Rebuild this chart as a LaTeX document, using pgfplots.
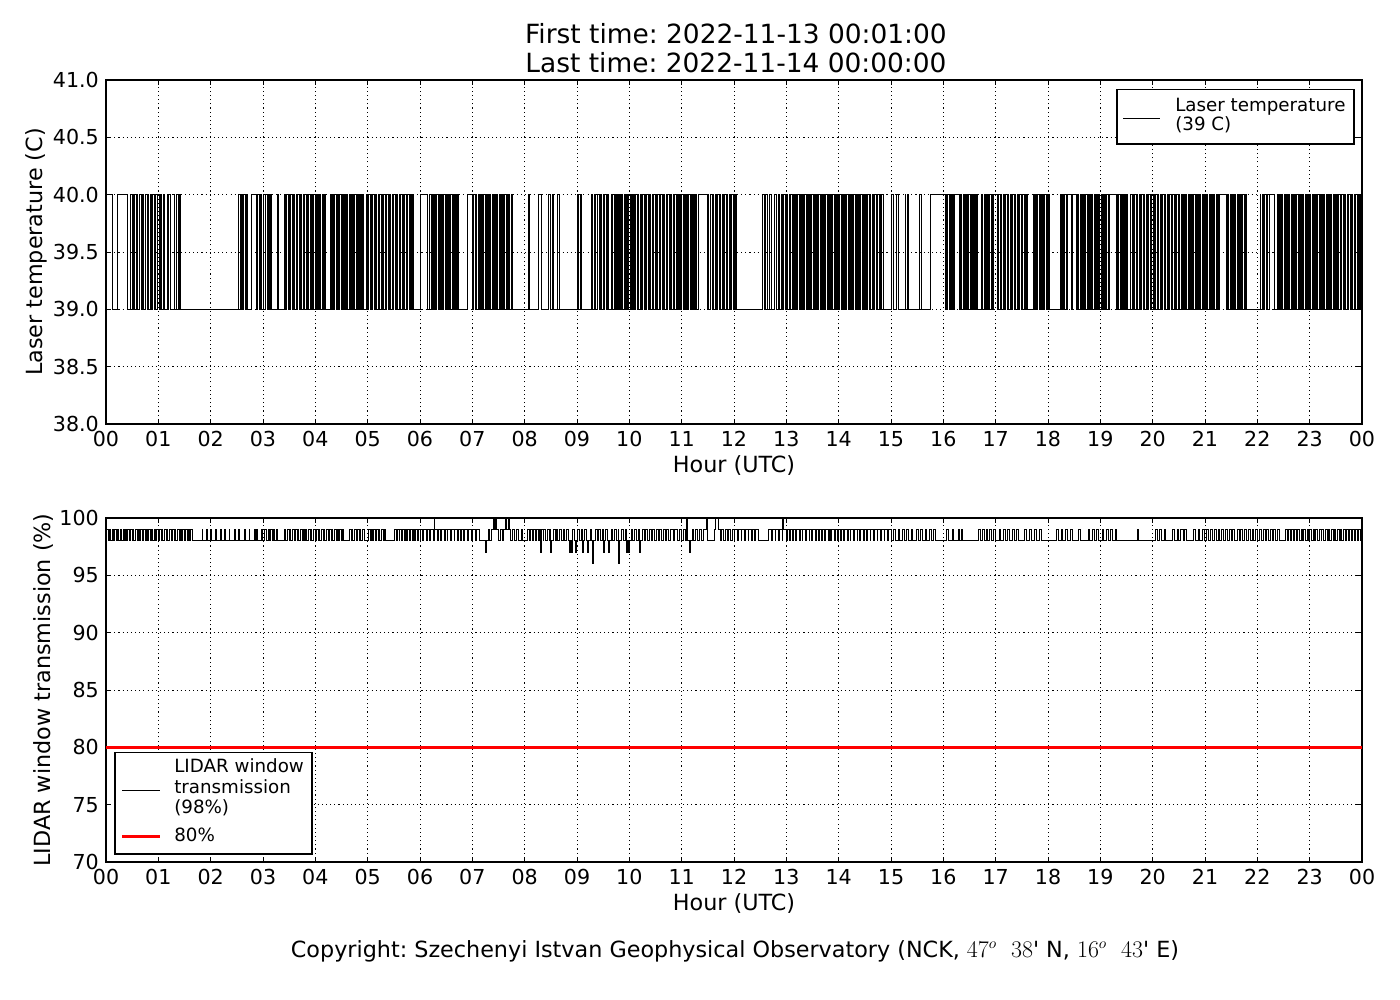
\documentclass[border=0pt]{standalone}
\usepackage{fontspec}
\setmainfont{DejaVu Sans}
\usepackage{pgfplots}
\pgfplotsset{compat=1.18}
\frenchspacing
\newcommand\titlefont{\fontsize{19.1}{22}\selectfont}
\newcommand\labelfont{\fontsize{16.1}{18}\selectfont}
\newcommand\tickfont{\fontsize{14.9}{17}\selectfont}
\newcommand\legfont{\fontsize{13.2}{14.8}\selectfont}
\pgfplotsset{
  myax/.style={
    scale only axis, width=907.7pt, height=248.6pt,
    xmin=0, xmax=1440,
    xtick={0,60,...,1440},
    xticklabels={00,01,02,03,04,05,06,07,08,09,10,11,12,13,14,15,16,17,18,19,20,21,22,23,00},
    grid=major,
    major grid style={black, line width=0.5pt, dash pattern=on 0.8pt off 2.2pt},
    tick align=inside, major tick length=3.8pt,
    every tick/.style={black, line width=0.6pt},
    axis line style={black, line width=0.8pt},
    ticklabel style={font=\tickfont},
    xticklabel style={inner sep=0pt, yshift=-5pt},
    yticklabel style={inner sep=0pt, xshift=-5pt},
    /pgf/number format/assume math mode=true,
  }
}
\begin{document}
\frenchspacing
\begin{tikzpicture}[x=0.7227pt, y=0.7227pt]
\path[use as bounding box] (0,0) rectangle (1400,1000);
\begin{axis}[myax, at={(76.61pt,416.28pt)}, anchor=south west,
  ymin=38, ymax=41, ytick={38,38.5,39,39.5,40,40.5,41},
  yticklabel style={/pgf/number format/.cd, fixed, fixed zerofill, precision=1}]
\addplot[black, line width=0.65pt, const plot mark left] coordinates {
(1,40)(7,39)(13,40)(25,39)
(28,40)(30,39)(31,40)(33,39)(35,40)(36,39)(38,40)(41,39)(42,40)(43,39)(45,40)(47,39)(48,40)(49,39)(51,40)(52,39)(53,40)(55,39)(56,40)(57,39)(59,40)(61,39)(62,40)(63,39)(66,40)(67,39)(70,40)(71,39)(72,40)(74,39)(78,40)(79,39)(81,40)(83,39)(84,40)(85,39)
(152,40)(154,39)(155,40)(156,39)(158,40)(160,39)(161,40)(162,39)
(167,40)(173,39)(174,40)(176,39)(177,40)(178,39)(180,40)(181,39)(183,40)(185,39)(186,40)(187,39)(189,40)(190,39)
(197,40)(198,39)
(205,40)(206,39)(207,40)(209,39)(210,40)(211,39)(212,40)(214,39)(215,40)(216,39)(218,40)(219,39)(220,40)(222,39)(223,40)(224,39)(226,40)(227,39)(228,40)(230,39)(231,40)(232,39)(234,40)(236,39)(237,40)(238,39)(240,40)(241,39)(242,40)(244,39)(245,40)(246,39)(248,40)(249,39)(250,40)(252,39)
(257,40)(259,39)(260,40)(261,39)(262,40)(264,39)(265,40)(266,39)(268,40)(270,39)(271,40)(272,39)(273,40)(275,39)(276,40)(277,39)(279,40)(280,39)(281,40)(283,39)(284,40)(285,39)(287,40)(288,39)(289,40)(291,39)(292,40)(293,39)(294,40)(295,39)
(299,40)(300,39)(301,40)(303,39)(304,40)(305,39)(306,40)(308,39)(309,40)(310,39)(312,40)(313,39)(314,40)(316,39)(317,40)(318,39)(320,40)(321,39)(322,40)(324,39)(325,40)(326,39)(328,40)(329,39)(330,40)(332,39)(333,40)(334,39)(336,40)(337,39)(338,40)(340,39)(341,40)(342,39)(344,40)(345,39)(346,40)(348,39)(349,40)(350,39)(351,40)(352,39)
(360,40)(368,39)
(371,40)(373,39)(374,40)(375,39)(377,40)(378,39)(379,40)(381,39)(382,40)(383,39)(385,40)(386,39)(387,40)(389,39)(390,40)(391,39)(393,40)(394,39)(395,40)(397,39)(398,40)(399,39)(401,40)(402,39)(403,40)(404,39)
(414,40)(420,39)(421,40)(423,39)(424,40)(425,39)(427,40)(428,39)(429,40)(431,39)(432,40)(433,39)(435,40)(436,39)(437,40)(439,39)(440,40)(441,39)(443,40)(444,39)(445,40)(447,39)(448,40)(449,39)(451,40)(452,39)(453,40)(455,39)(456,40)(457,39)(459,40)(460,39)(461,40)(462,39)
(465,40)(466,39)
(484,40)(486,39)(496,40)(499,39)(507,40)(509,39)(512,40)(513,39)(518,40)(520,39)(540,40)(542,39)(544,40)(545,39)
(557,40)(558,39)(560,40)(561,39)(564,40)(566,39)(567,40)(568,39)(570,40)(571,39)(572,40)(574,39)(575,40)(576,39)(579,40)(580,39)(581,40)(583,39)(584,40)(585,39)(586,40)(588,39)(589,40)(590,39)(591,40)(592,39)(594,40)(596,39)(597,40)(598,39)(599,40)(601,39)(602,40)(603,39)(605,40)(606,39)(607,40)(609,39)(610,40)(611,39)(613,40)(614,39)(615,40)(617,39)(618,40)(619,39)(620,40)(622,39)(623,40)(624,39)(626,40)(627,39)(628,40)(630,39)(631,40)(632,39)(634,40)(635,39)(636,40)(638,39)(639,40)(640,39)(642,40)(643,39)(644,40)(646,39)(647,40)(648,39)(650,40)(651,39)(652,40)(654,39)(655,40)(656,39)(658,40)(659,39)(660,40)(662,39)(663,40)(664,39)(666,40)(667,39)(668,40)(670,39)(671,40)(672,39)(673,40)(675,39)(676,40)(677,39)
(679,40)(689,39)
(690,40)(691,39)(693,40)(695,39)(696,40)(697,39)(699,40)(700,39)(701,40)(703,39)(704,40)(705,39)(707,40)(708,39)(709,40)(711,39)(712,40)(713,39)(715,40)(716,39)(717,40)(719,39)(720,40)(721,39)(722,40)(723,39)
(753,40)(755,39)(756,40)(758,39)(761,40)(763,39)(766,40)(769,39)
(771,40)(772,39)(774,40)(775,39)(777,40)(779,39)(780,40)(781,39)(783,40)(784,39)(785,40)(787,39)(788,40)(789,39)(791,40)(792,39)(793,40)(795,39)(796,40)(797,39)(799,40)(800,39)(801,40)(803,39)(804,40)(805,39)(807,40)(808,39)(809,40)(811,39)(812,40)(813,39)(815,40)(816,39)(817,40)(819,39)(820,40)(821,39)(823,40)(824,39)(825,40)(827,39)(828,40)(829,39)(831,40)(832,39)(833,40)(835,39)(836,40)(837,39)(839,40)(840,39)(841,40)(843,39)(844,40)(845,39)(847,40)(848,39)(849,40)(851,39)(852,40)(853,39)(855,40)(856,39)(857,40)(859,39)(860,40)(861,39)(863,40)(864,39)(865,40)(867,39)(868,40)(869,39)(871,40)(872,39)(873,40)(875,39)(876,40)(877,39)(879,40)(880,39)(881,40)(883,39)(884,40)(885,39)(887,40)(888,39)(889,40)(891,39)
(901,40)(903,39)(906,40)(908,39)(916,40)(917,39)(919,40)(920,39)(933,40)(935,39)(945,40)(962,39)
(963,40)(964,39)(965,40)(967,39)(968,40)(969,39)(970,40)(972,39)(973,40)(979,39)(980,40)(981,39)(983,40)(984,39)(985,40)(987,39)(988,40)(989,39)(991,40)(992,39)(993,40)(995,39)(996,40)(997,39)(998,40)(999,39)
(1004,40)(1005,39)(1007,40)(1008,39)(1009,40)(1011,39)(1012,40)(1013,39)(1015,40)(1016,39)(1017,40)(1022,39)(1023,40)(1025,39)(1026,40)(1027,39)(1029,40)(1030,39)(1031,40)(1033,39)(1034,40)(1035,39)(1037,40)(1038,39)(1039,40)(1041,39)(1042,40)(1043,39)(1045,40)(1046,39)(1047,40)(1049,39)(1050,40)(1051,39)(1053,40)(1054,39)(1055,40)(1056,39)
(1063,40)(1064,39)(1066,40)(1067,39)(1068,40)(1070,39)(1071,40)(1072,39)(1074,40)(1075,39)(1076,40)(1078,39)(1079,40)(1080,39)(1081,40)(1082,39)
(1094,40)(1095,39)(1097,40)(1098,39)(1099,40)(1101,39)(1102,40)(1107,39)(1108,40)(1113,39)(1114,40)(1115,39)(1117,40)(1118,39)(1119,40)(1121,39)(1122,40)(1123,39)(1125,40)(1126,39)(1127,40)(1129,39)(1130,40)(1131,39)(1133,40)(1134,39)(1135,40)(1137,39)(1138,40)(1139,39)(1141,40)(1142,39)(1143,40)(1145,39)(1146,40)(1147,39)(1149,40)(1150,39)(1151,40)(1159,39)(1160,40)(1161,39)(1163,40)(1164,39)(1165,40)(1167,39)(1168,40)(1169,39)(1170,40)(1171,39)
(1174,40)(1175,39)(1177,40)(1178,39)(1179,40)(1181,39)(1182,40)(1183,39)(1185,40)(1186,39)(1187,40)(1189,39)(1190,40)(1191,39)(1193,40)(1194,39)(1195,40)(1197,39)(1198,40)(1199,39)(1201,40)(1202,39)(1203,40)(1205,39)(1206,40)(1207,39)(1209,40)(1210,39)(1211,40)(1213,39)(1214,40)(1215,39)(1217,40)(1218,39)(1219,40)(1221,39)(1222,40)(1223,39)(1225,40)(1226,39)(1227,40)(1229,39)(1230,40)(1231,39)(1233,40)(1234,39)(1235,40)(1237,39)(1238,40)(1239,39)(1241,40)(1242,39)(1243,40)(1245,39)(1246,40)(1247,39)(1249,40)(1250,39)(1251,40)(1253,39)(1254,40)(1255,39)(1257,40)(1258,39)(1259,40)(1261,39)(1262,40)(1263,39)(1265,40)(1266,39)(1267,40)(1269,39)(1270,40)(1271,39)(1273,40)(1274,39)(1275,40)(1276,39)(1277,40)(1285,39)(1286,40)(1287,39)(1289,40)(1290,39)(1291,40)(1293,39)(1294,40)(1295,39)(1297,40)(1298,39)(1299,40)(1301,39)(1302,40)(1303,39)(1305,40)(1306,39)(1307,40)(1308,39)
(1323,40)(1324,39)(1326,40)(1327,39)(1328,40)(1330,39)(1331,40)(1332,39)(1334,40)(1340,39)(1343,40)(1344,39)(1345,40)(1347,39)(1348,40)(1349,39)(1351,40)(1352,39)(1353,40)(1355,39)(1356,40)(1357,39)(1359,40)(1360,39)(1361,40)(1363,39)(1364,40)(1365,39)(1367,40)(1368,39)(1369,40)(1371,39)(1372,40)(1373,39)(1375,40)(1376,39)(1377,40)(1379,39)(1380,40)(1381,39)(1383,40)(1384,39)(1385,40)(1387,39)(1388,40)(1389,39)(1391,40)(1392,39)(1393,40)(1395,39)(1396,40)(1397,39)(1399,40)(1400,39)(1401,40)(1403,39)(1404,40)(1405,39)(1407,40)(1408,39)(1409,40)(1411,39)(1412,40)(1413,39)(1415,40)(1416,39)(1417,40)(1419,39)(1420,40)(1421,39)(1423,40)(1424,39)(1425,40)(1427,39)(1428,40)(1429,39)(1431,40)(1432,39)(1433,40)(1435,39)(1436,40)(1437,39)(1438,40)(1439,39)(1440,39)
};
\end{axis}
\begin{axis}[myax, at={(76.61pt,99.73pt)}, anchor=south west,
  ymin=70, ymax=100, ytick={70,75,80,85,90,95,100}]
\addplot[black, line width=0.65pt, const plot mark left] coordinates {
(1,99)(3,98)(4,99)(5,98)(7,99)(8,98)(10,99)(12,98)(13,99)(14,98)(16,99)(18,98)(20,99)(21,98)(22,99)(24,98)(25,99)(27,98)(28,99)(30,98)(31,99)(32,98)(34,99)(36,98)(37,99)(38,98)(40,99)(42,98)(43,99)(45,98)(46,99)(47,98)(49,99)(51,98)(52,99)(53,98)(55,99)(57,98)(58,99)(60,98)(61,99)(63,98)(64,99)(65,98)(67,99)(69,98)(70,99)(71,98)(73,99)(75,98)(76,99)(78,98)(79,99)(80,98)(82,99)(84,98)(85,99)(87,98)(88,99)(90,98)(91,99)(93,98)(94,99)(96,98)(97,99)(99,98)
(110,99)(111,98)(115,99)(116,98)(120,99)(121,98)(126,99)(127,98)(131,99)(132,98)(136,99)(137,98)(141,99)(142,98)(147,99)(148,98)(152,99)(153,98)(159,99)(160,98)(164,99)(165,98)(170,99)(171,98)(173,99)(174,98)(178,99)(179,98)
(182,99)(184,98)(186,99)(187,98)(189,99)(191,98)(192,99)(193,98)(195,99)(197,98)
(205,99)(206,98)(208,99)(210,98)(211,99)(212,98)(214,99)(216,98)(217,99)(219,98)(220,99)(221,98)(223,99)(225,98)(226,99)(228,98)(229,99)(230,98)(232,99)(234,98)(235,99)(236,98)(238,99)(240,98)(241,99)(243,98)(244,99)(245,98)(247,99)(249,98)(250,99)(251,98)(253,99)(255,98)(256,99)(258,98)(259,99)(260,98)(262,99)(264,98)(265,99)(266,98)(268,99)(270,98)(271,99)(272,98)
(279,99)(281,98)(282,99)(283,98)(285,99)(287,98)(288,99)(290,98)(291,99)(292,98)(294,99)(296,98)
(301,99)(303,98)(304,99)(305,98)(307,99)(309,98)(310,99)(312,98)(313,99)(314,98)(316,99)(318,98)(319,99)(320,98)
(331,99)(333,98)(334,99)(336,98)(337,99)(339,98)(340,99)(342,98)(343,99)(345,98)(346,99)(348,98)(349,99)(351,98)(352,99)(354,98)(355,99)(357,98)(358,99)(360,98)
(361,99)(363,98)(364,99)(367,98)(368,99)(371,98)(372,99)(375,98)(376,100)(377,99)
(380,98)(381,99)(384,98)(385,99)(388,98)(389,99)(391,98)(392,99)(395,98)(396,99)(399,98)(400,99)(403,98)(404,99)(406,98)(407,99)(410,98)(411,99)(414,98)(416,99)(419,98)(420,99)(423,98)(425,99)(428,98)
(435,97)(436,98)(438,99)(440,98)(442,99)(444,100)(445,99)(447,100)(448,99)(450,98)(452,99)(455,98)(456,99)(458,100)(459,99)(461,100)(462,99)(464,98)(466,99)(468,98)(470,99)(473,98)(476,99)(477,98)
(483,99)(485,98)(487,99)(489,98)(490,99)(492,98)(494,99)(496,98)(497,99)(498,97)(499,99)(501,98)(502,99)(504,98)(506,99)(508,98)(509,99)(510,97)(511,98)(513,99)(515,98)(516,99)(518,98)(520,99)(522,98)(524,99)(526,98)(528,99)(530,98)(531,97)(532,98)(534,97)(535,99)(537,98)(538,97)(539,98)(541,99)(543,98)(545,99)(546,97)(547,98)(549,99)(551,98)(552,97)(553,98)(555,99)(557,98)(558,96)(559,98)(561,99)(563,98)(565,99)(567,98)(569,99)(570,97)(571,98)(573,99)(575,98)(576,97)(577,98)(579,99)(581,98)(583,99)(585,98)(587,99)(588,96)(589,98)(591,99)(593,98)(595,99)(597,97)(598,98)(599,97)(600,98)(602,99)(604,98)(606,99)(608,98)(610,99)(612,97)(613,98)(615,99)(617,98)(619,99)(621,98)(623,99)(625,98)(627,99)(629,98)(631,99)(633,98)(635,99)(637,98)(639,99)(641,98)(643,99)(645,98)(647,99)(650,98)(652,99)(655,98)(657,99)(660,98)(662,99)(664,98)
(666,100)(667,98)(669,97)(670,98)(672,99)(674,98)(676,99)(678,98)(680,99)(683,98)(685,99)(688,100)(690,98)(698,99)(699,100)(702,99)(704,98)(706,99)(708,98)(710,99)(712,98)(714,99)(716,98)(718,99)(720,98)
(721,99)(724,98)(725,99)(728,98)(729,99)(732,98)(733,99)(736,98)(737,99)(740,98)(741,99)(744,98)(745,99)(748,98)
(760,99)(763,98)(764,99)(767,98)(768,99)(771,98)(772,99)(775,98)(776,100)(777,99)(780,98)(781,99)(784,98)(785,99)(787,98)(788,99)(791,98)(792,99)(795,98)(796,99)(798,98)(799,99)(802,98)(803,99)(806,98)(807,99)(809,98)(810,99)(813,98)(814,99)(817,98)(818,99)(820,98)(821,99)(824,98)(825,99)(828,98)(829,99)(831,98)(832,99)(835,98)(836,99)(839,98)(840,99)(842,98)(843,99)(846,98)(847,99)(850,98)(851,99)(853,98)(854,99)(857,98)(858,99)(861,98)(862,99)(864,98)(865,99)(868,98)(869,99)(872,98)(873,99)(876,98)(877,99)(880,98)(881,99)(884,98)(885,99)(888,98)(889,99)(892,98)(893,99)(896,98)(897,99)(900,98)
(903,99)(905,98)(908,99)(910,98)(913,99)(915,98)(918,99)(920,98)(923,99)(925,98)(929,99)(931,98)(934,99)(936,98)(939,99)(941,98)(944,99)(946,98)(949,99)(951,98)
(964,99)(966,98)(970,99)(972,98)(977,99)(979,98)(981,99)(982,98)
(1000,99)(1002,98)(1005,99)(1007,98)(1009,99)(1011,98)(1013,99)(1015,98)(1018,99)(1020,98)
(1024,99)(1026,98)(1029,99)(1031,98)(1034,99)(1036,98)(1039,99)(1041,98)(1044,99)(1046,98)(1053,99)(1055,98)(1059,99)(1061,98)(1065,99)(1067,98)(1070,99)(1072,98)
(1090,99)(1092,98)(1095,99)(1097,98)(1100,99)(1102,98)(1106,99)(1108,98)(1115,99)(1117,98)(1126,99)(1128,98)(1131,99)(1133,98)(1136,99)(1138,98)
(1142,99)(1144,98)(1147,99)(1149,98)(1152,99)(1154,98)(1157,99)(1159,98)(1182,99)(1184,98)
(1203,99)(1205,98)(1208,99)(1210,98)(1213,99)(1215,98)(1223,99)(1225,98)(1228,99)(1230,98)(1232,99)(1235,98)(1237,99)(1239,98)(1247,99)(1249,98)(1252,99)(1254,98)(1257,99)(1259,98)
(1262,99)(1264,98)(1266,99)(1268,98)(1271,99)(1273,98)(1275,99)(1277,98)(1279,99)(1281,98)(1283,99)(1286,98)(1288,99)(1290,98)(1292,99)(1294,98)(1297,99)(1299,98)(1301,99)(1303,98)(1305,99)(1307,98)(1310,99)(1312,98)(1314,99)(1316,98)(1318,99)(1320,98)(1322,99)(1325,98)(1327,99)(1329,98)(1331,99)(1333,98)(1335,99)(1337,98)(1339,99)(1341,98)(1343,99)(1345,98)
(1352,99)(1354,98)(1356,99)(1358,98)(1359,99)(1361,98)(1363,99)(1365,98)(1366,99)(1368,98)(1370,99)(1372,98)(1373,99)(1375,98)(1377,99)(1379,98)(1380,99)(1382,98)(1384,99)(1386,98)(1387,99)(1389,98)(1391,99)(1393,98)(1394,99)(1396,98)(1398,99)(1400,98)(1401,99)(1403,98)(1405,99)(1407,98)(1408,99)(1410,98)(1412,99)(1414,98)(1415,99)(1417,98)(1419,99)(1421,98)(1422,99)(1424,98)(1426,99)(1428,98)(1429,99)(1431,98)(1433,99)(1435,98)(1436,99)(1438,98)(1440,98)
};
\addplot[red, line width=2pt] coordinates {(0,80)(1440,80)};
\end{axis}
% legend of the upper panel
\draw[black, line width=0.8pt, fill=white] (1117,910.5) rectangle (1354,856);
\draw[black, line width=0.7pt] (1123,882) -- (1160,882);
\node[font=\legfont, anchor=base west, inner sep=0pt] at (1175,888.6) {Laser temperature};
\node[font=\legfont, anchor=base west, inner sep=0pt] at (1175,869) {(39 C)};
% legend of the lower panel
\draw[black, line width=0.8pt, fill=white] (115,247.3) rectangle (312,146);
\draw[black, line width=0.7pt] (122,209.3) -- (160,209.3);
\draw[red, line width=2pt] (122,163.3) -- (160,163.3);
\node[font=\legfont, anchor=base west, inner sep=0pt] at (174,227.3) {LIDAR window};
\node[font=\legfont, anchor=base west, inner sep=0pt] at (174,206.5) {transmission};
\node[font=\legfont, anchor=base west, inner sep=0pt] at (174,186) {(98\%)};
\node[font=\legfont, anchor=base west, inner sep=0pt] at (174,158.3) {80\%};
% titles and labels
\node[font=\titlefont, anchor=base] at (736,956) {First time: 2022-11-13 00:01:00};
\node[font=\titlefont, anchor=base] at (736,927) {Last time: 2022-11-14 00:00:00};
\node[font=\labelfont, anchor=base] at (734,527) {Hour (UTC)};
\node[font=\labelfont, anchor=base] at (734,89) {Hour (UTC)};
\node[font=\labelfont, anchor=base, rotate=90] at (42,748) {Laser temperature (C)};
\node[font=\labelfont, anchor=base, rotate=90] at (50,310) {LIDAR window transmission (\%)};
\node[font=\labelfont, anchor=base] at (735,43) {Copyright: Szechenyi Istvan Geophysical Observatory (NCK, $47^{o}\ \ 38$\textquotesingle{} N, $16^{o}\ \ 43$\textquotesingle{} E)};
\end{tikzpicture}
\end{document}
